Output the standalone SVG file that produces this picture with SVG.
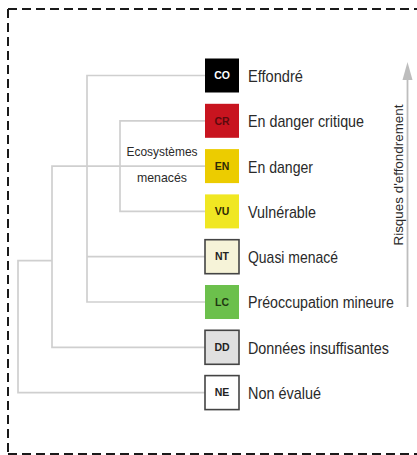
<svg xmlns="http://www.w3.org/2000/svg" width="417" height="455" viewBox="0 0 417 455">
<style>
.frame{fill:none;stroke:#1a1a1a;stroke-width:2;stroke-dasharray:9 5}
.conn{fill:none;stroke:#cfcfcf;stroke-width:1.7}
.box{stroke:none}
.bord{stroke:#444;stroke-width:1.6}
.code{font-family:"Liberation Sans",Arial,sans-serif;font-weight:bold;font-size:10.5px;text-anchor:middle}
.lab{font-family:"Liberation Sans",Arial,sans-serif;font-size:17px;fill:#2a2a2a}
.lab.sm{font-size:16px}
.eco{font-family:"Liberation Sans",Arial,sans-serif;font-size:13px;fill:#2a2a2a;text-anchor:middle}
.axis{font-family:"Liberation Sans",Arial,sans-serif;font-size:13.5px;fill:#2a2a2a;text-anchor:middle}
</style>
<rect width="417" height="455" fill="#fff"/>
<path class="frame" d="M8 9 H417 M8 9 V454 M8 454 H417"/>
<g id="connectors">
<path class="conn" d="M205 75.5 H87 V302 H205 M87 256.7 H205"/>
<path class="conn" d="M205 120.8 H120 V211.4 H205"/>
<path class="conn" d="M205 166.1 H52 V347.3 H205 M52 260.7 H18 V392.6 H205"/>
</g>
<g id="CO"><rect class="box" x="205" y="58.5" width="34" height="34" fill="#000"/><text class="code" x="222" y="79.2" fill="#fff">CO</text><text class="lab" x="248" y="82" textLength="55" lengthAdjust="spacingAndGlyphs">Effondré</text></g>
<g id="CR"><rect class="box" x="205" y="103.8" width="34" height="34" fill="#c8141f"/><text class="code" x="222" y="124.5" fill="#5c0a0e">CR</text><text class="lab" x="248" y="127.3" textLength="116" lengthAdjust="spacingAndGlyphs">En danger critique</text></g>
<g id="EN"><rect class="box" x="205" y="149.1" width="34" height="34" fill="#eccc00"/><text class="code" x="222" y="169.8" fill="#2e2a05">EN</text><text class="lab" x="248" y="172.6" textLength="65" lengthAdjust="spacingAndGlyphs">En danger</text></g>
<g id="VU"><rect class="box" x="205" y="194.4" width="34" height="34" fill="#f0e722"/><text class="code" x="222" y="215.1" fill="#2e2a05">VU</text><text class="lab" x="248" y="217.9" textLength="68" lengthAdjust="spacingAndGlyphs">Vulnérable</text></g>
<g id="NT"><rect class="bord" x="205" y="239.7" width="34" height="34" fill="#f6f3d8"/><text class="code" x="222" y="260.4" fill="#222">NT</text><text class="lab" x="248" y="263.2" textLength="90" lengthAdjust="spacingAndGlyphs">Quasi menacé</text></g>
<g id="LC"><rect class="box" x="205" y="285" width="34" height="34" fill="#6cc04c"/><text class="code" x="222" y="305.7" fill="#1f3812">LC</text><text class="lab sm" x="248" y="308.3" textLength="146" lengthAdjust="spacingAndGlyphs">Préoccupation mineure</text></g>
<g id="DD"><rect class="bord" x="205" y="330.3" width="34" height="34" fill="#e0e0e0"/><text class="code" x="222" y="351" fill="#222">DD</text><text class="lab" x="248" y="353.8" textLength="141" lengthAdjust="spacingAndGlyphs">Données insuffisantes</text></g>
<g id="NE"><rect class="bord" x="205" y="375.6" width="34" height="34" fill="#fff"/><text class="code" x="222" y="396.3" fill="#222">NE</text><text class="lab" x="248" y="399.1" textLength="73" lengthAdjust="spacingAndGlyphs">Non évalué</text></g>
<g id="ecosystemes">
<text class="eco" x="162" y="156" textLength="71" lengthAdjust="spacingAndGlyphs">Ecosystèmes</text>
<text class="eco" x="162" y="181.5" textLength="50" lengthAdjust="spacingAndGlyphs">menacés</text>
</g>
<g id="axis">
<line x1="407.5" y1="307" x2="407.5" y2="78" stroke="#bdbdbd" stroke-width="1.8"/>
<polygon points="407.5,62 402.5,80 412.5,80" fill="#bdbdbd"/>
<text class="axis" transform="translate(403 175) rotate(-90)" textLength="141" lengthAdjust="spacingAndGlyphs">Risques d'effondrement</text>
</g>
</svg>
